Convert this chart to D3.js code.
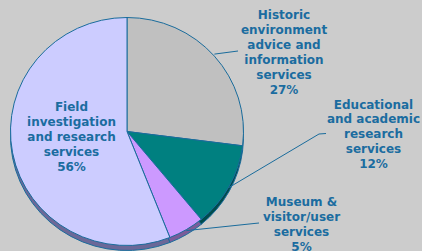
<!DOCTYPE html>
<html>
<head>
<meta charset="utf-8">
<script src="https://cdn.jsdelivr.net/npm/d3@7/dist/d3.min.js"></script>
<style>
  html, body { margin: 0; padding: 0; background: #cccccc; }
  svg { display: block; }
  .lbl { font-family: "DejaVu Sans", Verdana, sans-serif; font-weight: bold; font-size: 12px; fill: #1b6ca0; }
</style>
</head>
<body>
<svg id="chart"></svg>
<script>
const categories = [
  'Historic environment advice and information services',
  'Educational and academic research services',
  'Museum & visitor/user services',
  'Field investigation and research services',
];
const values = [27, 12, 5, 56];
const labelLines = [
  ['Historic', 'environment', 'advice and', 'information', 'services', '27%'],
  ['Educational', 'and academic', 'research', 'services', '12%'],
  ['Museum &', 'visitor/user', 'services', '5%'],
  ['Field', 'investigation', 'and research', 'services', '56%'],
];
const topColors = ['#c0c0c0', '#008080', '#cc99ff', '#ccccff'];
const sideColors = ['#8a8a8a', '#004c4c', '#7a5c99', '#6b6898'];

const W = 422, H = 251;
const CX = 127, CY = 131.5, RX = 116.5, RY = 114;
const DEPTH = 5;

// label layout: centre x, first baseline, line gap; leader end points
const labelPos = [
  { x: 284, y: 19, gap: 14.9, leader: [[238, 51]] },
  { x: 373.5, y: 108.5, gap: 14.8, leader: [[319, 134], [326, 133.5]] },
  { x: 301.5, y: 205.5, gap: 15, leader: [[254, 223.5], [259, 223]] },
  { x: 71.5, y: 111, gap: 14.9, leader: null },
];

const svg = d3.select('#chart').attr('width', W).attr('height', H);

const pie = d3.pie().sort(null).value((d) => d)(values);
const arc = d3.arc().innerRadius(0).outerRadius(RY);
const sx = RX / RY;

// side / shadow of the 3d pie
const sideLayer = svg.append('g')
  .attr('transform', `translate(${CX},${CY + DEPTH}) scale(${sx},1)`);
sideLayer.selectAll('path')
  .data(pie)
  .enter()
  .append('path')
  .attr('d', arc)
  .attr('fill', (d, i) => sideColors[i])
  .attr('stroke', '#1a6c9c')
  .attr('stroke-width', 1)
  .attr('vector-effect', 'non-scaling-stroke');

const topLayer = svg.append('g')
  .attr('transform', `translate(${CX},${CY}) scale(${sx},1)`);
topLayer.selectAll('path')
  .data(pie)
  .enter()
  .append('path')
  .attr('d', arc)
  .attr('fill', (d, i) => topColors[i])
  .attr('stroke', '#1a6c9c')
  .attr('stroke-width', 1)
  .attr('vector-effect', 'non-scaling-stroke');

// leader lines from the slice rim to the label
const line = d3.line();
pie.forEach((d, i) => {
  const lp = labelPos[i];
  if (!lp.leader) return;
  const a = (d.startAngle + d.endAngle) / 2;
  const start = [CX + RX * Math.sin(a), CY - RY * Math.cos(a) + (a > Math.PI / 2 ? 1 : -2)];
  svg.append('path')
    .attr('d', line([start, ...lp.leader]))
    .attr('fill', 'none')
    .attr('stroke', '#1a6c9c')
    .attr('stroke-width', 1);
});

// labels
labelLines.forEach((lines, i) => {
  const lp = labelPos[i];
  const t = svg.append('text')
    .attr('class', 'lbl')
    .attr('text-anchor', 'middle');
  lines.forEach((s, j) => {
    t.append('tspan')
      .attr('x', lp.x)
      .attr('y', lp.y + j * lp.gap)
      .text(s);
  });
});
</script>
</body>
</html>
